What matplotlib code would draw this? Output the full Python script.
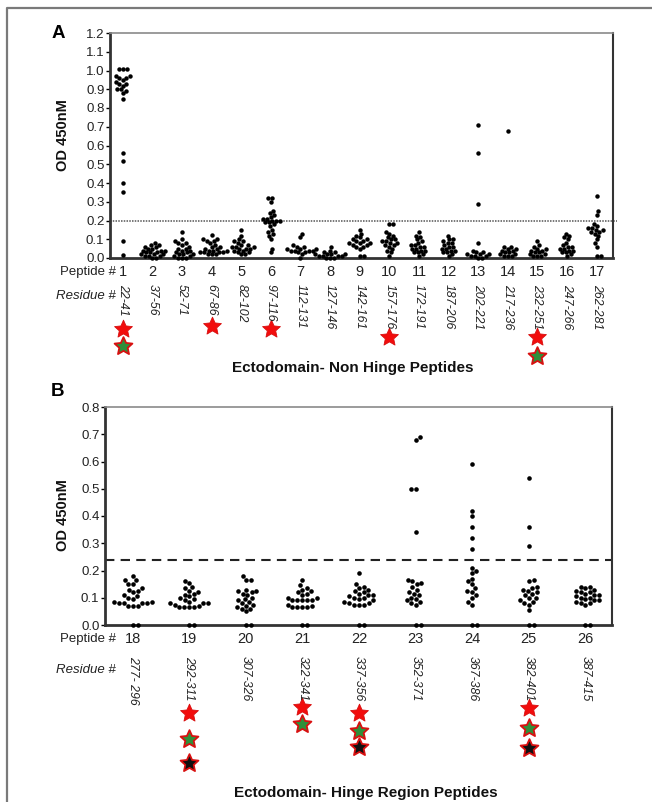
import numpy as np
import matplotlib
matplotlib.use("Agg")
import matplotlib.pyplot as plt
from matplotlib.transforms import blended_transform_factory
from matplotlib.lines import Line2D
from matplotlib.path import Path

plt.rcParams['font.family'] = ['Liberation Sans', 'DejaVu Sans']

# ---------------- data ----------------
peptides_a = list(range(1, 18))
residues_a = ["22-41", "37-56", "52-71", "67-86", "82-102", "97-116", "112-131", "127-146",
              "142-161", "157-176", "172-191", "187-206", "202-221", "217-236", "232-251",
              "247-266", "262-281"]
values_a = [
    [1.01, 1.01, 1.01, 0.97, 0.97, 0.96, 0.96, 0.95, 0.94, 0.93, 0.93, 0.92, 0.90, 0.90, 0.89, 0.88, 0.85, 0.56, 0.52, 0.40, 0.35, 0.09, 0.015],
    [0.08, 0.07, 0.07, 0.06, 0.06, 0.05, 0.05, 0.04, 0.04, 0.04, 0.03, 0.03, 0.03, 0.02, 0.02, 0.02, 0.01, 0.01, 0.01, 0.00, 0.00],
    [0.14, 0.10, 0.09, 0.08, 0.08, 0.07, 0.06, 0.05, 0.05, 0.04, 0.04, 0.03, 0.03, 0.02, 0.02, 0.02, 0.01, 0.01, 0.00, 0.00, 0.00],
    [0.125, 0.10, 0.10, 0.09, 0.09, 0.08, 0.07, 0.06, 0.06, 0.05, 0.05, 0.04, 0.04, 0.04, 0.03, 0.03, 0.03, 0.03, 0.02, 0.02, 0.02],
    [0.15, 0.12, 0.10, 0.09, 0.09, 0.08, 0.07, 0.07, 0.06, 0.06, 0.06, 0.05, 0.05, 0.05, 0.04, 0.04, 0.03, 0.03, 0.02, 0.02],
    [0.32, 0.32, 0.30, 0.25, 0.24, 0.23, 0.22, 0.21, 0.21, 0.20, 0.20, 0.20, 0.19, 0.19, 0.18, 0.17, 0.15, 0.14, 0.13, 0.12, 0.10, 0.05, 0.03],
    [0.13, 0.11, 0.07, 0.06, 0.06, 0.05, 0.05, 0.05, 0.04, 0.04, 0.04, 0.04, 0.03, 0.03, 0.02, 0.00],
    [0.06, 0.04, 0.03, 0.03, 0.02, 0.02, 0.02, 0.02, 0.01, 0.01, 0.01, 0.01, 0.00, 0.00, 0.00],
    [0.15, 0.13, 0.12, 0.11, 0.10, 0.10, 0.09, 0.09, 0.08, 0.08, 0.08, 0.07, 0.07, 0.06, 0.06, 0.05, 0.01, 0.01],
    [0.18, 0.18, 0.14, 0.13, 0.12, 0.11, 0.10, 0.10, 0.09, 0.09, 0.08, 0.08, 0.07, 0.07, 0.06, 0.05, 0.04, 0.03, 0.01],
    [0.14, 0.12, 0.11, 0.10, 0.09, 0.08, 0.07, 0.07, 0.06, 0.06, 0.05, 0.05, 0.04, 0.04, 0.03, 0.03, 0.02, 0.01],
    [0.12, 0.10, 0.10, 0.09, 0.08, 0.08, 0.07, 0.06, 0.06, 0.05, 0.05, 0.04, 0.04, 0.03, 0.03, 0.02, 0.01],
    [0.71, 0.56, 0.29, 0.08, 0.04, 0.03, 0.03, 0.02, 0.02, 0.02, 0.01, 0.01, 0.01, 0.00, 0.00],
    [0.68, 0.06, 0.06, 0.05, 0.05, 0.04, 0.04, 0.03, 0.03, 0.02, 0.02, 0.01, 0.01, 0.01],
    [0.09, 0.07, 0.06, 0.05, 0.05, 0.04, 0.04, 0.03, 0.03, 0.02, 0.02, 0.01, 0.01, 0.01],
    [0.13, 0.12, 0.11, 0.10, 0.08, 0.07, 0.06, 0.06, 0.05, 0.05, 0.04, 0.04, 0.03, 0.03, 0.02, 0.01],
    [0.33, 0.25, 0.23, 0.18, 0.17, 0.16, 0.16, 0.15, 0.15, 0.14, 0.14, 0.13, 0.12, 0.10, 0.08, 0.06, 0.01, 0.01],
]
cutoff_a = 0.2
stars_a = {1: ['red', 'green'], 4: ['red'], 6: ['red'], 10: ['red'], 15: ['red', 'green']}

peptides_b = list(range(18, 27))
residues_b = ["277- 296", "292-311", "307-326", "322-341", "337-356", "352-371", "367-386",
              "382-401", "387-415"]
values_b = [
    [0.18, 0.165, 0.165, 0.15, 0.15, 0.135, 0.13, 0.125, 0.12, 0.11, 0.105, 0.10, 0.095, 0.085, 0.085, 0.08, 0.08, 0.08, 0.08, 0.07, 0.07, 0.07, 0.0, 0.0],
    [0.16, 0.155, 0.14, 0.135, 0.125, 0.12, 0.115, 0.11, 0.105, 0.10, 0.095, 0.09, 0.085, 0.08, 0.08, 0.08, 0.075, 0.07, 0.065, 0.065, 0.065, 0.065, 0.0, 0.0],
    [0.18, 0.165, 0.165, 0.13, 0.125, 0.125, 0.12, 0.115, 0.11, 0.10, 0.095, 0.09, 0.085, 0.08, 0.075, 0.07, 0.065, 0.06, 0.06, 0.05, 0.0, 0.0],
    [0.165, 0.145, 0.135, 0.13, 0.125, 0.12, 0.115, 0.11, 0.10, 0.10, 0.09, 0.09, 0.09, 0.09, 0.09, 0.075, 0.07, 0.065, 0.065, 0.065, 0.065, 0.0, 0.0],
    [0.19, 0.15, 0.14, 0.135, 0.13, 0.125, 0.12, 0.115, 0.11, 0.11, 0.105, 0.10, 0.10, 0.095, 0.09, 0.085, 0.08, 0.08, 0.075, 0.075, 0.075, 0.0, 0.0],
    [0.69, 0.68, 0.50, 0.50, 0.34, 0.165, 0.16, 0.155, 0.15, 0.14, 0.13, 0.12, 0.115, 0.11, 0.10, 0.095, 0.09, 0.085, 0.08, 0.075, 0.0, 0.0],
    [0.59, 0.42, 0.40, 0.36, 0.32, 0.28, 0.21, 0.20, 0.19, 0.17, 0.16, 0.15, 0.135, 0.125, 0.12, 0.11, 0.10, 0.085, 0.075, 0.0, 0.0],
    [0.54, 0.36, 0.29, 0.165, 0.16, 0.14, 0.135, 0.13, 0.125, 0.12, 0.115, 0.11, 0.10, 0.10, 0.09, 0.085, 0.08, 0.075, 0.055, 0.0, 0.0],
    [0.14, 0.14, 0.135, 0.13, 0.125, 0.12, 0.12, 0.115, 0.11, 0.11, 0.105, 0.10, 0.10, 0.095, 0.09, 0.09, 0.085, 0.08, 0.08, 0.075, 0.0, 0.0],
]
cutoff_b = 0.24
stars_b = {19: ['red', 'green', 'black'], 21: ['red', 'green'], 22: ['red', 'green', 'black'],
           25: ['red', 'green', 'black']}

# ---------------- layout ----------------
W, H = 652, 802
fig = plt.figure(figsize=(W / 100, H / 100), dpi=100)

def fx(px):
    return px / W

def fy(py):
    return 1 - py / H

ax_a = fig.add_axes([fx(110), fy(258), fx(613 - 110), (258 - 33) / H])
ax_b = fig.add_axes([fx(105), fy(625), fx(612 - 105), (625 - 407) / H])

star_y_a = {1: [329, 346], 4: [326], 6: [329], 10: [337], 15: [337, 356]}
star_y_b = {19: [713, 739, 763], 21: [707, 724], 22: [713, 731, 747], 25: [708, 728, 748]}
star_face = {'red': '#f20c0c', 'green': '#2f8f3a', 'black': '#111111'}
STAR = Path.unit_regular_star(5, 0.47)

TXT = '#222222'


def swarm_offsets(ys_px, d):
    order = np.argsort(ys_px)
    placed = []
    offs = np.zeros(len(ys_px))
    flip = 1
    for i in order:
        y = ys_px[i]
        ints = []
        for xo, yo in placed:
            dy = abs(y - yo)
            if dy < d:
                w = np.sqrt(d * d - dy * dy)
                ints.append((xo - w, xo + w))
        cands = [0.0] + [a for a, b in ints] + [b for a, b in ints]
        cands.sort(key=lambda c: (round(abs(c), 3), -flip * np.sign(c)))
        chosen = 0.0
        for c in cands:
            if all(not (a + 1e-6 < c < b - 1e-6) for a, b in ints):
                chosen = c
                break
        if chosen != 0:
            flip = -flip
        offs[i] = chosen
        placed.append((chosen, y))
    return offs


def draw_panel(ax, peptides, values, d, ms):
    fig.canvas.draw()
    for p, vals in zip(peptides, values):
        vals = np.asarray(vals, dtype=float)
        pts = ax.transData.transform(np.column_stack([np.full(len(vals), p), vals]))
        offs = swarm_offsets(pts[:, 1], d)
        pts[:, 0] += offs
        dat = ax.transData.inverted().transform(pts)
        ax.plot(dat[:, 0], vals, 'o', ms=ms, color='black', mec='black', mew=0,
                clip_on=False, zorder=3)


def style_axes(ax):
    for s in ['left', 'bottom']:
        ax.spines[s].set_linewidth(2.0)
        ax.spines[s].set_color('#333333')
    ax.spines['right'].set_linewidth(1.5)
    ax.spines['right'].set_color('#333333')
    ax.spines['top'].set_linewidth(1.2)
    ax.spines['top'].set_color('#8a8a8a')
    ax.tick_params(axis='y', direction='out', length=3, width=1, labelsize=9.5,
                   labelcolor=TXT, pad=1)
    ax.tick_params(axis='x', length=0, labelbottom=False)


# Panel A
ax_a.set_xlim(0.57, 17.55)
ax_a.set_ylim(0, 1.2)
ax_a.set_yticks(np.round(np.arange(0, 1.21, 0.1), 1))
ax_a.set_yticklabels([f"{v:.1f}" for v in np.arange(0, 1.21, 0.1)])
ax_a.set_xticks(peptides_a)
style_axes(ax_a)
ax_a.axhline(cutoff_a, color='#555555', lw=1.1, ls=(0, (1, 0.8)), zorder=2, clip_on=False,
             xmax=1.008)
draw_panel(ax_a, peptides_a, values_a, 4.0, 3.2)

# Panel B
ax_b.set_xlim(17.51, 26.47)
ax_b.set_ylim(0, 0.8)
ax_b.set_yticks(np.round(np.arange(0, 0.81, 0.1), 1))
ax_b.set_yticklabels([f"{v:.1f}" for v in np.arange(0, 0.81, 0.1)])
ax_b.set_xticks(peptides_b)
style_axes(ax_b)
ax_b.axhline(cutoff_b, color='#222222', lw=1.5, ls=(0, (4.5, 3)), zorder=2)
draw_panel(ax_b, peptides_b, values_b, 5.0, 3.3)

# labels
for ax, yc in [(ax_a, 135), (ax_b, 515)]:
    fig.text(fx(63), fy(yc), "OD 450nM", rotation=90, ha='center', va='center',
             fontsize=10.5, fontweight='bold', color='#111111')
fig.text(fx(58), fy(33), "A", ha='center', va='center', fontsize=13.5, fontweight='bold')
fig.text(fx(57), fy(392), "B", ha='center', va='center', fontsize=13.5, fontweight='bold')


def row_labels(ax, peptides, residues, y_pep, y_res_top, y_reslab, stars, star_y):
    tr = blended_transform_factory(ax.transData, fig.transFigure)
    fig.text(fx(116), fy(y_pep), "Peptide #", ha='right', va='center', fontsize=9.5, color=TXT)
    fig.text(fx(116), fy(y_reslab), "Residue #", ha='right', va='center', fontsize=9.5,
             style='italic', color=TXT)
    for p, r in zip(peptides, residues):
        fig.text(p, fy(y_pep), str(p), transform=tr, ha='center', va='center',
                 fontsize=10.5, color=TXT)
        fig.text(p, fy(y_res_top), r, transform=tr, ha='center', va='top', rotation=-90,
                 fontsize=8.8, style='italic', color=TXT)
    for p, cols in stars.items():
        for c, yy in zip(cols, star_y[p]):
            ln = Line2D([p], [fy(yy)], transform=tr, marker=STAR, ms=13.5, mfc=star_face[c],
                        mec='#d81010', mew=1.3 if c != 'red' else 0.6, ls='none')
            fig.add_artist(ln)


row_labels(ax_a, peptides_a, residues_a, 272, 284, 296, stars_a, star_y_a)
row_labels(ax_b, peptides_b, residues_b, 639, 656, 670, stars_b, star_y_b)

fig.text(fx(353), fy(368), "Ectodomain- Non Hinge Peptides", ha='center', va='center',
         fontsize=11, fontweight='bold', color='#111111')
fig.text(fx(366), fy(793), "Ectodomain- Hinge Region Peptides", ha='center', va='center',
         fontsize=11, fontweight='bold', color='#111111')

# outer frame (left and top edges)
fig.add_artist(Line2D([fx(7), fx(7), 1], [0, fy(8), fy(8)], transform=fig.transFigure,
                      color='#7a7a7a', lw=1.6))

fig.savefig("out.png", dpi=100)
